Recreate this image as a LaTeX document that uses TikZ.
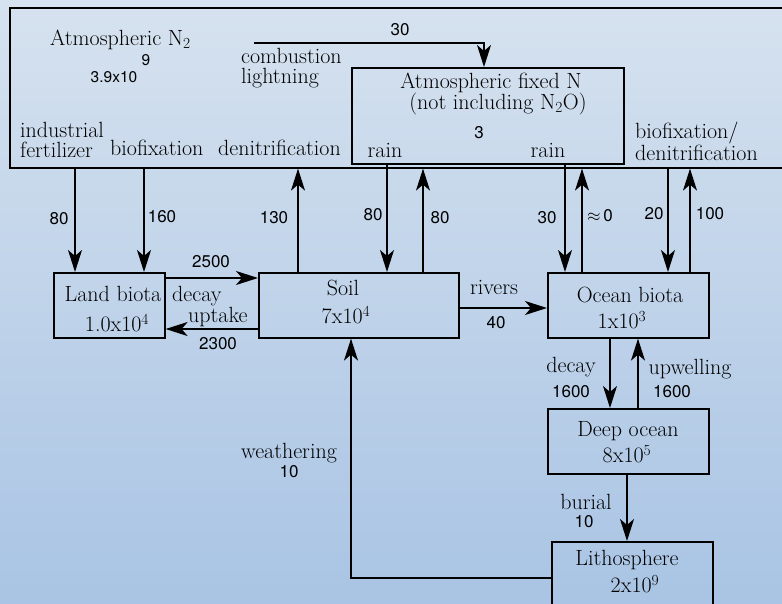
\documentclass[tikz,border=0pt]{standalone}
\usepackage{fontspec}
\newfontfamily\nf{TeX Gyre Heros}
\usetikzlibrary{arrows.meta}
\definecolor{bgtop}{RGB}{214,226,239}
\definecolor{bgbot}{RGB}{169,196,228}
\begin{document}
\begin{tikzpicture}[x=1pt,y=-1pt,
  box/.style={draw, line width=1.6pt, inner sep=0pt, anchor=north west},
  lbl/.style={inner sep=0pt, font=\fontsize{22}{20}\selectfont},
  num/.style={inner sep=0pt, font=\nf\fontsize{17}{19}\selectfont},
  arr/.style={line width=1.6pt, -{Stealth[length=22pt,width=14pt,inset=6pt]}}]
\useasboundingbox (0,0) rectangle (782,603);
\shade[top color=bgtop, bottom color=bgbot] (0,0) rectangle (782,603);
\clip (0,0) rectangle (782,603);

% boxes
\node[box, minimum width=800pt, minimum height=160pt] (atm) at (9,7) {};
\node[box, minimum width=272pt, minimum height=96pt] (fix) at (351,67) {};
\node[box, minimum width=111pt, minimum height=65pt] (land) at (53,272) {};
\node[box, minimum width=200pt, minimum height=65pt] (soil) at (258,272) {};
\node[box, minimum width=161pt, minimum height=65pt] (ocean) at (547,272) {};
\node[box, minimum width=161pt, minimum height=65pt] (deep) at (547,408) {};
\node[box, minimum width=161pt, minimum height=80pt] (litho) at (551,541) {};

% atmosphere texts
\node[lbl, anchor=west] (tatm) at (50,40) {Atmospheric N\textsubscript{2}};
\node[num, font=\nf\fontsize{15.5}{17}\selectfont] (texp) at (146,60) {9};
\node[num, font=\nf\fontsize{15.5}{17}\selectfont] (tatmv) at (114,77) {3.9x10};
\node[lbl, anchor=west, align=left] (tcomb) at (241,68) {combustion\\lightning};
\node[num] (t30a) at (400,30) {30};
\node[lbl] (tfix1) at (491,83) {Atmospheric fixed N};
\node[lbl] (tfix2) at (498,104) {(not including N\textsubscript{2}O)};
\node[num] (tfix3) at (479,133) {3};
\node[lbl] (train1) at (385,150) {rain};
\node[lbl] (train2) at (548,150) {rain};
\node[lbl, anchor=west, align=left] (tind) at (20,140) {industrial\\fertilizer};
\node[lbl, anchor=west] (tbiof) at (110,148) {biofixation};
\node[lbl, anchor=west] (tdenit) at (218,148) {denitrification};
\node[lbl, anchor=west, align=left] (tbd) at (635,141) {biofixation/\\denitrification};

% box texts
\node[lbl] (tland) at (113,294) {Land biota};
\node[lbl] (tlandv) at (117,323) {1.0x10\textsuperscript{4}};
\node[lbl] (tsoil) at (343,288) {Soil};
\node[lbl] (tsoilv) at (346,315) {7x10\textsuperscript{4}};
\node[lbl] (tocean) at (630,295) {Ocean biota};
\node[lbl] (toceanv) at (622,320) {1x10\textsuperscript{3}};
\node[lbl] (tdeep) at (628,431) {Deep ocean};
\node[lbl] (tdeepv) at (627,454) {8x10\textsuperscript{5}};
\node[lbl] (tlitho) at (627,560) {Lithosphere};
\node[lbl] (tlithov) at (635,584) {2x10\textsuperscript{9}};

% flux labels
\node[num] (n80a) at (59,219) {80};
\node[num] (n160) at (162,217) {160};
\node[num] (n130) at (274,218) {130};
\node[num] (n80b) at (373,215) {80};
\node[num] (n80c) at (440,218) {80};
\node[num] (n30b) at (547,218) {30};
\node[num] (n0) at (600,216) {$\approx$\,0};
\node[num] (n20) at (654,214) {20};
\node[num] (n100) at (710,214) {100};
\node[num] (n2500) at (211,262) {2500};
\node[lbl, anchor=west] (tdecay) at (172,296) {decay};
\node[lbl, anchor=west] (tupt) at (188,317) {uptake};
\node[num] (n2300) at (218,344) {2300};
\node[lbl] (trivers) at (494,287) {rivers};
\node[num] (n40) at (496,323) {40};
\node[lbl] (tdecay2) at (571,367) {decay};
\node[num] (n1600a) at (571,392) {1600};
\node[lbl] (tupw) at (690,369) {upwelling};
\node[num] (n1600b) at (672,392) {1600};
\node[lbl] (tburial) at (586,502) {burial};
\node[num] (n10a) at (584,522) {10};
\node[lbl] (tweath) at (289,453) {weathering};
\node[num] (n10b) at (289,472) {10};

% connectors
\coordinate (cstart) at (254,43);
\draw[arr] (cstart) -| (fix.north -| 484,0);
\draw[arr] (atm.south -| 75,0) -- (land.north -| 75,0);
\draw[arr] (atm.south -| 144,0) -- (land.north -| 144,0);
\draw[arr] (soil.north -| 298,0) -- (atm.south -| 298,0);
\draw[arr] (fix.south -| 387,0) -- (soil.north -| 387,0);
\draw[arr] (soil.north -| 423,0) -- (atm.south -| 423,0);
\draw[arr] (fix.south -| 565,0) -- (ocean.north -| 565,0);
\draw[arr] (ocean.north -| 582,0) -- (atm.south -| 582,0);
\draw[arr] (atm.south -| 668,0) -- (ocean.north -| 668,0);
\draw[arr] (ocean.north -| 690,0) -- (atm.south -| 690,0);
\draw[arr] (land.east |- 0,278) -- (soil.west |- 0,278);
\draw[arr] (soil.west |- 0,329) -- (land.east |- 0,329);
\draw[arr] (soil.east |- 0,308) -- (ocean.west |- 0,308);
\draw[arr] (ocean.south -| 610,0) -- (deep.north -| 610,0);
\draw[arr] (deep.north -| 638,0) -- (ocean.south -| 638,0);
\draw[arr] (deep.south -| 627,0) -- (litho.north -| 627,0);
\draw[arr] (litho.west |- 0,578) -| (soil.south -| 351,0);
\end{tikzpicture}
\end{document}
